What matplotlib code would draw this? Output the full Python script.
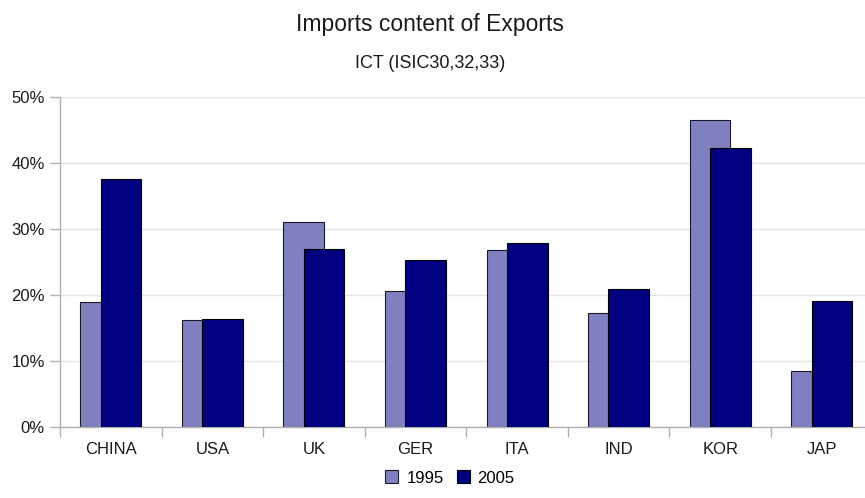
import numpy as np
import matplotlib.pyplot as plt
from matplotlib.ticker import FixedLocator, PercentFormatter

# --- dados ---
paises = ['CHINA', 'USA', 'UK', 'GER', 'ITA', 'IND', 'KOR', 'JAP']
v1995 = [18.9, 16.2, 31.0, 20.5, 26.7, 17.3, 46.5, 8.5]
v2005 = [37.6, 16.3, 26.9, 25.3, 27.8, 20.9, 42.2, 19.0]
anos = ['1995', '2005']

plt.rcParams['font.family'] = ['Liberation Sans', 'DejaVu Sans']

W, H = 865, 498
fig = plt.figure(figsize=(W / 100, H / 100), dpi=100)
# eixo vai um pouco além da borda direita
ax = fig.add_axes([60 / W, (H - 426.7) / H, (872.5 - 60) / W, (426.7 - 96.7) / H])

x = np.arange(len(paises))
larg = 0.4
ax.bar(x - 0.1, v1995, larg, color='#8080c0', edgecolor='#1a1a2e', linewidth=0.8,
       label=anos[0], zorder=2)
ax.bar(x + 0.1, v2005, larg, color='#000080', edgecolor='#000000', linewidth=0.8,
       label=anos[1], zorder=3)

ax.set_xlim(-0.5, len(paises) - 0.5)
ax.set_ylim(0, 50)
ax.set_yticks(np.arange(0, 51, 10))
ax.yaxis.set_major_formatter(PercentFormatter(decimals=0))
ax.grid(axis='y', color='#e4e4e4', linewidth=1, zorder=0)
ax.set_axisbelow(True)

ax.set_xticks(x)
ax.set_xticklabels(paises)
ax.xaxis.set_minor_locator(FixedLocator(np.arange(-0.5, len(paises), 1)))
ax.tick_params(axis='x', which='major', length=0, pad=11, labelsize=12, colors='#1a1a1a')
ax.tick_params(axis='x', which='minor', length=7, width=1, color='#b0b0b0', direction='out')
ax.tick_params(axis='y', length=7, width=1, color='#b0b0b0', pad=4, labelsize=12,
               labelcolor='#1a1a1a')

for lado in ['top', 'right']:
    ax.spines[lado].set_visible(False)
for lado in ['left', 'bottom']:
    ax.spines[lado].set_color('#b0b0b0')
    ax.spines[lado].set_linewidth(1)

fig.text(0.497, 1 - 31.5 / H, 'Imports content of Exports', ha='center', va='baseline',
         fontsize=16.5, color='#1a1a1a')
fig.text(0.497, 1 - 68 / H, 'ICT (ISIC30,32,33)', ha='center', va='baseline',
         fontsize=13, color='#1a1a1a')

fig.legend(loc='center', bbox_to_anchor=(450 / W, 1 - 478 / H), ncol=2, frameon=False,
           fontsize=12, handlelength=0.78, handleheight=0.78, handletextpad=0.48,
           columnspacing=0.78)

fig.savefig('out.png', dpi=100)
